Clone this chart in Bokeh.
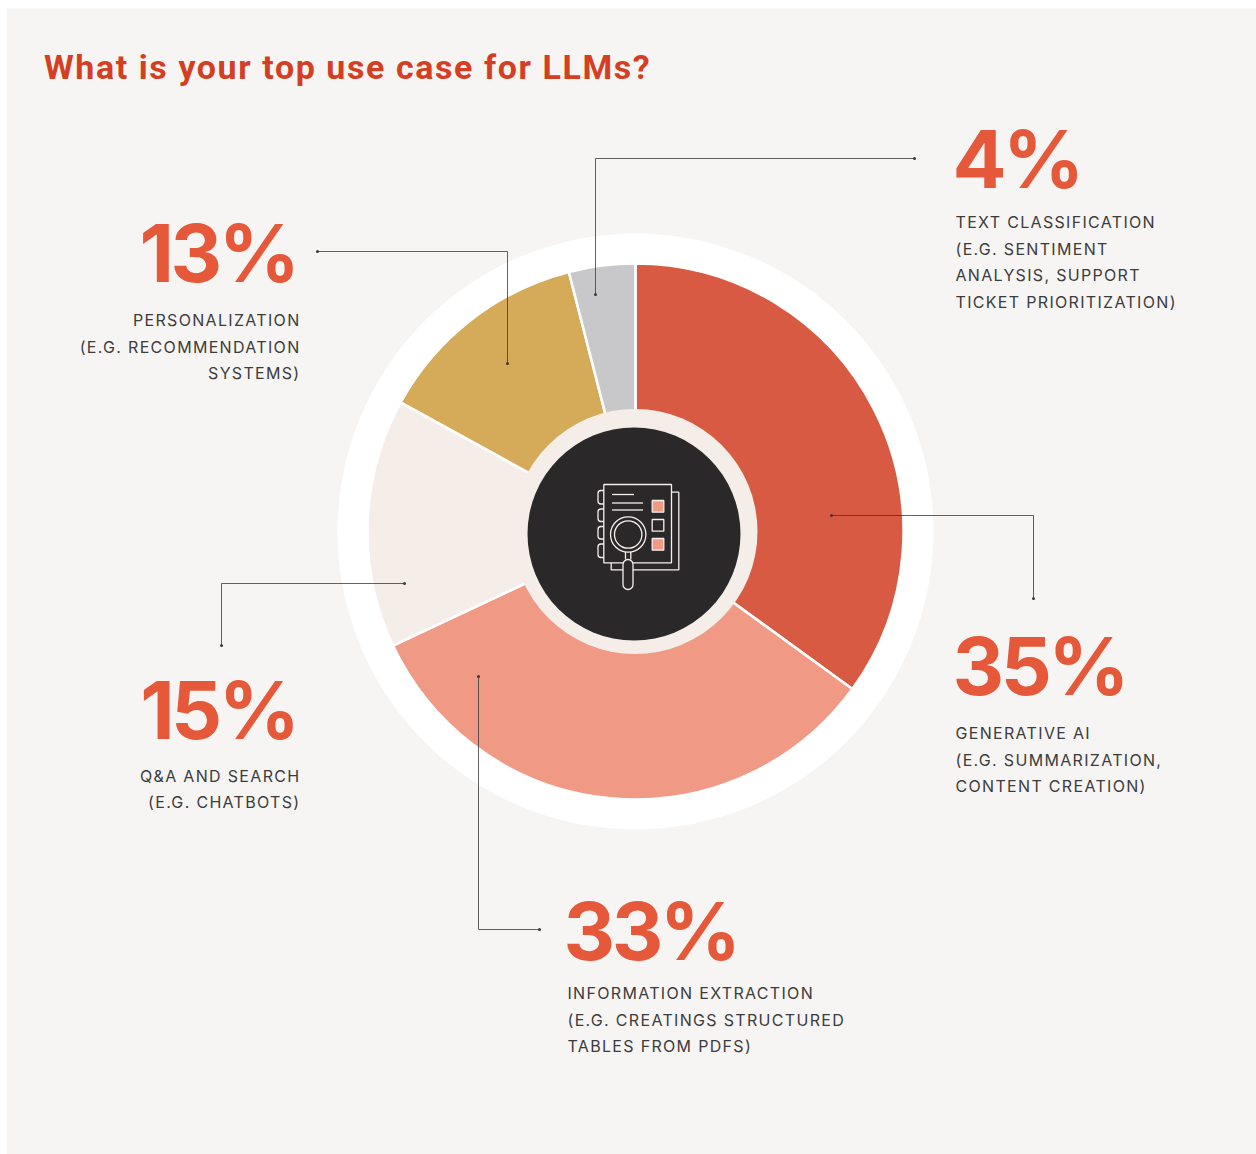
import numpy as np
from bokeh.core.properties import value
from bokeh.embed import file_html
from bokeh.layouts import column
from bokeh.models import InlineStyleSheet, Range1d
from bokeh.plotting import figure
from bokeh.resources import INLINE

W, H = 1256, 1154

title = "What is your top use case for LLMs?"
categories = ["Generative AI", "Information extraction", "Q&A and search", "Personalization", "Text classification"]
shares = [35, 33, 15, 13, 4]
slice_colors = ["#d95a43", "#f09a85", "#f5ede8", "#d5ab5a", "#c8c8ca"]
captions = [
    ["GENERATIVE AI", "(E.G. SUMMARIZATION,", "CONTENT CREATION)"],
    ["INFORMATION EXTRACTION", "(E.G. CREATINGS STRUCTURED", "TABLES FROM PDFS)"],
    ["Q&A AND SEARCH", "(E.G. CHATBOTS)"],
    ["PERSONALIZATION", "(E.G. RECOMMENDATION", "SYSTEMS)"],
    ["TEXT CLASSIFICATION", "(E.G. SENTIMENT", "ANALYSIS, SUPPORT", "TICKET PRIORITIZATION)"],
]

# Label placement: anchor x of figure and caption, baseline of figure and first caption line
big_x = [952, 563, 296, 296, 952]
cap_x = [955, 567, 300, 300, 955]
big_base = [695, 960, 739, 282, 188]
cap_base = [738.3, 998.3, 781, 325.3, 227.4]
aligns = ["left", "left", "right", "right", "left"]

# Elbow leaders running from each slice out to its label
leaders = [
    ([831, 1033, 1033], [515, 515, 598]),
    ([478, 478, 539], [676, 929, 929]),
    ([404, 221, 221], [583, 583, 645]),
    ([317, 507, 507], [251, 251, 363]),
    ([914, 595, 595], [158, 158, 294]),
]

CAPTION_TRACK = 1.32
FIGURE_TRACK = -3.5
HEADING_TRACK = 1.57
BASELINE_SHIFT = 0.375


def Y(y):
    return H - np.asarray(y, dtype=float)


def layer(track, **extra):
    """A full-page transparent drawing surface with its own text tracking."""
    sheet = InlineStyleSheet(css=f":host {{ letter-spacing: {track}px; }}")
    fig = figure(width=W, height=H, output_backend="svg", toolbar_location=None,
                 x_range=Range1d(0, W), y_range=Range1d(0, H), min_border=0,
                 border_fill_color=None, background_fill_color=None,
                 outline_line_color=None, stylesheets=[sheet], **extra)
    fig.axis.visible = False
    fig.grid.visible = False
    return fig


def put_text(fig, xs, ys, rows, size, track, align, **style):
    """Place rows by baseline; right-aligned rows are corrected for their tracking."""
    xs = [x - track * len(r) if align == "right" else x for x, r in zip(xs, rows)]
    ys = Y(ys) + BASELINE_SHIFT * size
    fig.text(x=xs, y=ys, text=rows, text_font_size=f"{size}px", text_align=align,
             text_baseline="alphabetic", **style)


p = layer(CAPTION_TRACK)
figures_layer = layer(FIGURE_TRACK, margin=(-H, 0, 0, 0))
heading_layer = layer(HEADING_TRACK, margin=(-H, 0, 0, 0))

p.quad(left=6, right=W, top=float(Y(8)), bottom=0, fill_color="#f7f5f3", line_color=None)

cx, cy = 635.0, float(Y(531))
p.circle(x=cx, y=cy, radius=298, fill_color="#ffffff", line_color=None)

# Donut slices, clockwise from twelve o'clock
edges = np.pi / 2 - 2 * np.pi * np.cumsum([0] + shares) / sum(shares)
p.annular_wedge(x=[cx] * len(shares), y=[cy] * len(shares), inner_radius=100, outer_radius=268,
                start_angle=edges[1:], end_angle=edges[:-1], fill_color=slice_colors,
                line_color="#ffffff", line_width=2.5)

p.circle(x=cx - 0.5, y=cy, radius=122.5, fill_color="#f5ede8", line_color=None)
p.circle(x=cx - 1.5, y=float(Y(533.5)), radius=106.5, fill_color="#2a2829", line_color=None)

# Notebook and magnifier emblem
ink = "#f4f0ee"
lw = 1.3
p.line([671, 678.3, 678.3, 610.7, 610.7], Y([491.7, 491.7, 569.3, 569.3, 562.3]), line_color=ink, line_width=lw)
for top, bot in [(490, 503.5), (508.5, 521), (526, 538.5), (543.5, 557)]:
    p.quad(left=597.5, right=606, top=float(Y(top)), bottom=float(Y(bot)), fill_color="#2a2829",
           line_color=ink, line_width=lw, border_radius=3)
p.quad(left=603.3, right=671, top=float(Y(484)), bottom=float(Y(562.3)), fill_color="#2a2829",
       line_color=ink, line_width=lw)
p.multi_line(xs=[[611.5, 633.5], [611.5, 642.5], [611.5, 642.5]],
             ys=[list(Y([494, 494])), list(Y([502.5, 502.5])), list(Y([509.5, 509.5]))],
             line_color=ink, line_width=lw)
p.quad(left=[651.7] * 3, right=[663.3] * 3,
       top=list(Y([500, 519, 538])), bottom=list(Y([511.7, 530.7, 549.7])),
       fill_color=["#f09a85", "#2a2829", "#f09a85"], line_color=ink, line_width=lw)
p.circle(x=627.7, y=float(Y(534)), radius=17.7, fill_color="#2a2829", line_color=ink, line_width=lw)
p.circle(x=627.7, y=float(Y(534)), radius=13.7, fill_color="#2a2829", line_color=ink, line_width=lw)
p.multi_line(xs=[[625, 625], [630.3, 630.3]], ys=[list(Y([551.5, 559])), list(Y([551.5, 559]))],
             line_color=ink, line_width=lw)
p.quad(left=622.5, right=632.5, top=float(Y(559)), bottom=float(Y(589)), fill_color="#2a2829",
       line_color=ink, line_width=lw, border_radius=5)

# Leaders and their end dots
for xs, ys in leaders:
    p.line(xs, Y(ys), line_color="#3a3a3a", line_width=0.8)
    p.scatter([xs[0], xs[-1]], Y([ys[0], ys[-1]]), size=3, marker="circle", fill_color="#3a3a3a", line_color=None)

# Heading
put_text(heading_layer, [43.5], [79], [title], 34, HEADING_TRACK, "left", text_font=value("Roboto"),
         text_font_style="bold", text_color="#d43e22")

# Big percentage and its caption lines
LINE_STEP = 26.7
for i, share in enumerate(shares):
    put_text(figures_layer, [big_x[i]], [big_base[i]], [f"{share}%"], 80, FIGURE_TRACK, aligns[i],
             text_font=value("Inter"), text_font_style="bold", text_color="#e5583a")
    rows = captions[i]
    ys = [cap_base[i] + LINE_STEP * k for k in range(len(rows))]
    put_text(p, [cap_x[i]] * len(rows), ys, rows, 16, CAPTION_TRACK, aligns[i],
             text_font=value("Inter"), text_color="#3c3c3c")

page = column(p, figures_layer, heading_layer, margin=0, spacing=0)
open("out.html", "w").write(file_html(page, INLINE))
